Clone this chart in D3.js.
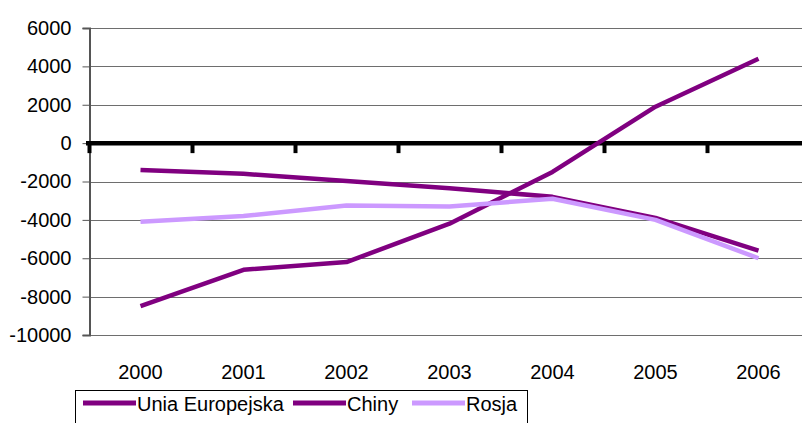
<!DOCTYPE html>
<html><head><meta charset="utf-8">
<script src="https://cdn.jsdelivr.net/npm/d3@7"></script>
<style>body{margin:0;background:#fff}svg{display:block}text{font-family:"Liberation Sans",Arial,sans-serif}</style>
</head><body>
<svg id="c" width="802" height="423"></svg>
<script>
const years = ["2000","2001","2002","2003","2004","2005","2006"];
const unia = [-1400,-1600,-1980,-2350,-2800,-3900,-5600];
const chiny = [-8500,-6600,-6200,-4200,-1500,1900,4400];
const rosja = [-4100,-3800,-3250,-3300,-2900,-4000,-6000];
const yTicks = [6000,4000,2000,0,-2000,-4000,-6000,-8000,-10000];
const seriesNames = ["Unia Europejska","Chiny","Rosja"];
const seriesColors = ["#800080","#800080","#CC99FF"];

const svg = d3.select("#c");
const x = d3.scaleBand().domain(years).range([89, 810]);
const y = d3.scaleLinear().domain([-10000, 6000]).range([335, 28]);
const FS = 20;

// gridlines
svg.append("g").selectAll("line").data(yTicks).join("line")
  .attr("x1", 89).attr("x2", 802)
  .attr("y1", d => Math.round(y(d)) + 0.5).attr("y2", d => Math.round(y(d)) + 0.5)
  .attr("stroke", "#6e6e6e").attr("stroke-width", 1.2);

// y axis
const yAxis = d3.axisLeft(y).tickValues(yTicks).tickSize(7).tickPadding(11).tickFormat(d => String(d));
const gy = svg.append("g").attr("transform", "translate(89.5,0)").call(yAxis);
gy.select(".domain").attr("stroke", "#555").attr("stroke-width", 2);
gy.selectAll(".tick line").attr("stroke", "#555");
gy.selectAll("text").attr("font-size", FS).attr("fill", "#000").attr("font-family", "Liberation Sans, Arial, sans-serif");

// zero line with category ticks
const gz = svg.append("g");
gz.append("line").attr("x1", 86).attr("x2", 802).attr("y1", y(0)).attr("y2", y(0))
  .attr("stroke", "#000").attr("stroke-width", 4.5);
gz.selectAll("line.tk").data(years).join("line").attr("class", "tk")
  .attr("x1", d => x(d) + 0.5).attr("x2", d => x(d) + 0.5)
  .attr("y1", y(0)).attr("y2", y(0) + 10)
  .attr("stroke", "#000").attr("stroke-width", 4);

// x labels
svg.append("g").selectAll("text").data(years).join("text")
  .attr("x", d => x(d) + x.bandwidth() / 2).attr("y", 379)
  .attr("text-anchor", "middle").attr("font-size", FS).text(d => d);

// lines
const line = d3.line().x((d, i) => x(years[i]) + x.bandwidth() / 2).y(d => y(d));
[unia, chiny, rosja].forEach((s, i) => {
  svg.append("path").datum(s).attr("d", line)
    .attr("fill", "none").attr("stroke", seriesColors[i]).attr("stroke-width", 4.5)
    .attr("stroke-linejoin", "round");
});

// legend
const lg = svg.append("g");
lg.append("rect").attr("x", 75.5).attr("y", 390.5).attr("width", 452).attr("height", 40)
  .attr("fill", "#fff").attr("stroke", "#000").attr("stroke-width", 1);
const legX = [83, 293, 412];
seriesNames.forEach((n, i) => {
  lg.append("line").attr("x1", legX[i]).attr("x2", legX[i] + 53).attr("y1", 403).attr("y2", 403)
    .attr("stroke", seriesColors[i]).attr("stroke-width", 5);
  lg.append("text").attr("x", legX[i] + 54).attr("y", 411).attr("font-size", FS).text(n);
});
</script>
</body></html>
